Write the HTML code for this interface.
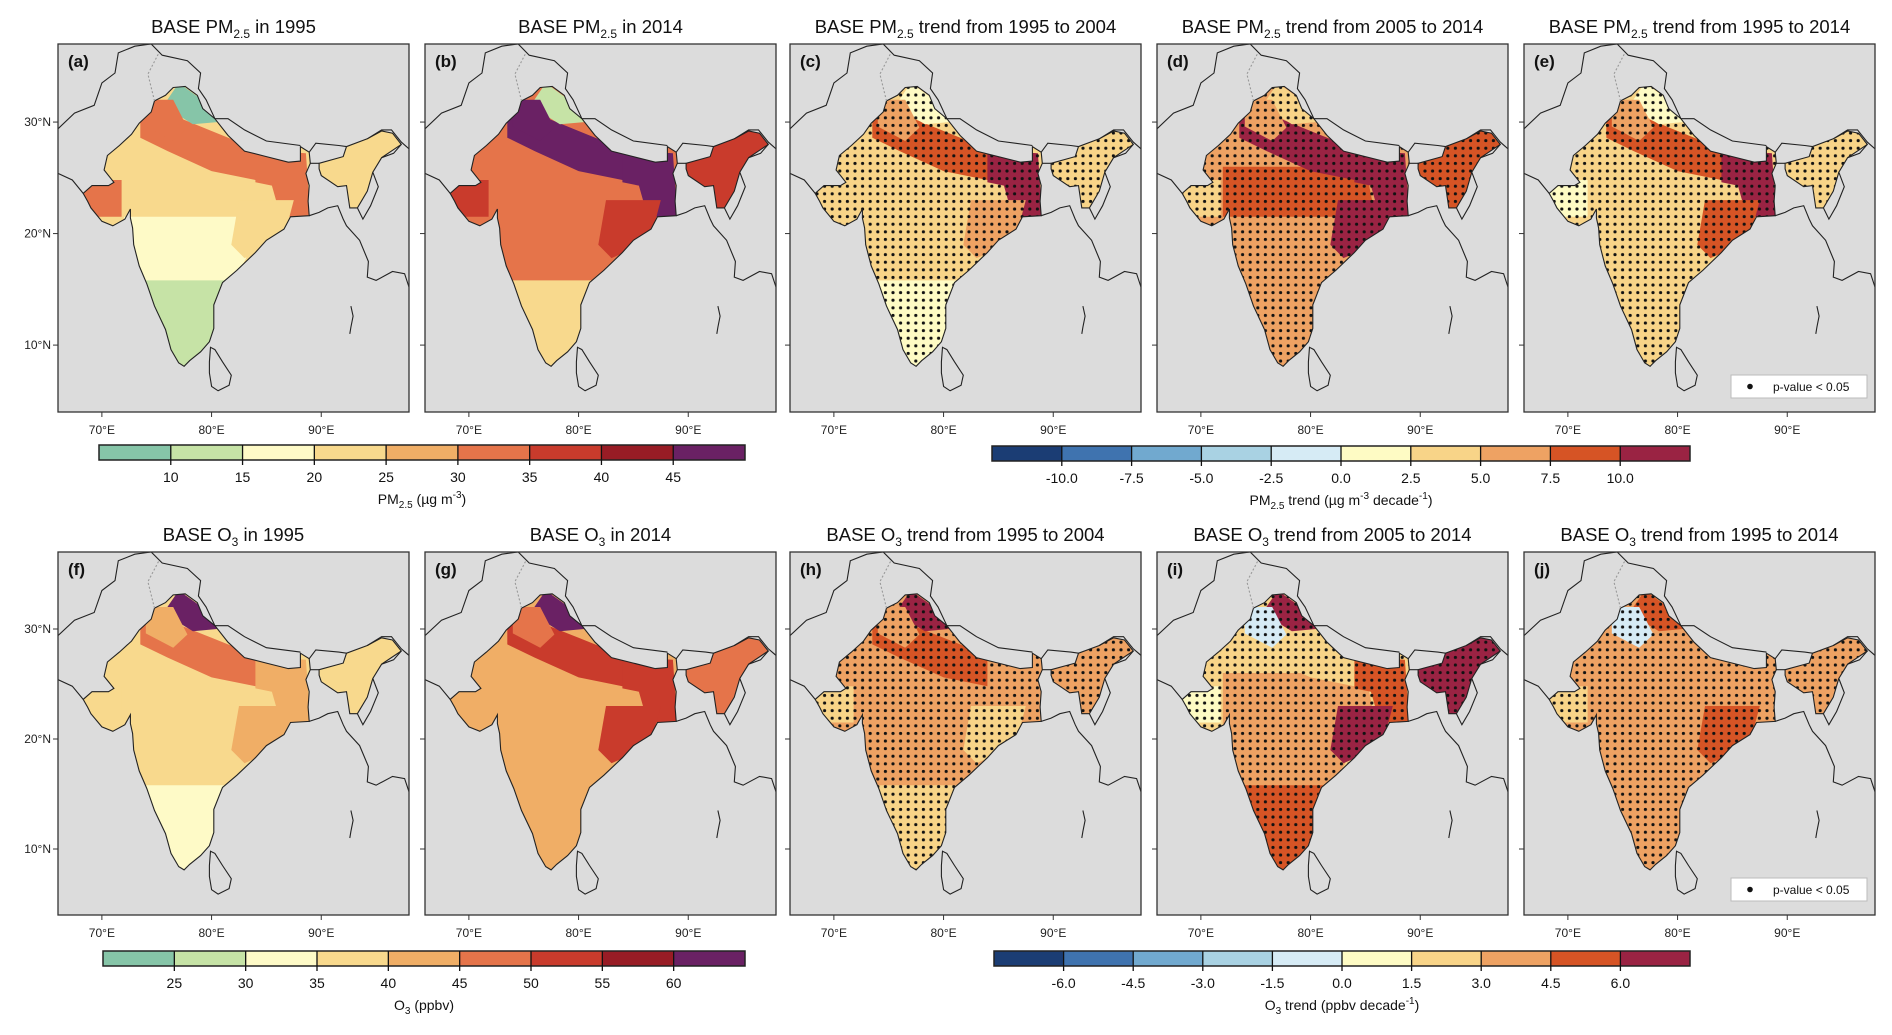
<!DOCTYPE html>
<html><head><meta charset="utf-8">
<style>
html,body{margin:0;padding:0;background:#fff;}
svg{display:block;font-family:"Liberation Sans",Arial,sans-serif;}
</style></head>
<body>
<svg id="fig" width="1892" height="1035" viewBox="0 0 1892 1035" xmlns="http://www.w3.org/2000/svg">
<defs>
<pattern id="dots" x="0" y="0" width="7.6" height="7.6" patternUnits="userSpaceOnUse">
<circle cx="3.8" cy="3.8" r="1.6" fill="#111"/>
</pattern>
</defs>
</svg>
<script>
// ---- data ----
const absTicks = [10,15,20,25,30,35,40,45];
const o3Ticks = [25,30,35,40,45,50,55,60];
const pmTrendTicks = [-10.0,-7.5,-5.0,-2.5,0.0,2.5,5.0,7.5,10.0];
const o3TrendTicks = [-6.0,-4.5,-3.0,-1.5,0.0,1.5,3.0,4.5,6.0];
const absColors = ["#86c5a8","#c6e3a6","#fefac7","#f8d98d","#f0ae66","#e5744a","#c93b2c","#981c25","#6a2164"];
const trendColors = ["#1b3d74","#3f73af","#71a9cf","#a9d2e3","#d6ebf5","#fefbc4","#f8d488","#eea263","#d65425","#9a2343"];
const lonTicks = [70,80,90];
const latTicks = [10,20,30];
// region order: base, central, deccan, south, igp, east, hills, gujarat, odisha, northeast, punjab
const pmA = [22, 23, 17, 12, 32, 31, 8, 33, 24, 23, 30];
const pmB = [33, 32, 31, 22, 47, 47, 14, 37, 39, 37, 46];
const pmC = [3.5, 3.5, 3.0, 1.5, 8.5, 11, 1.5, 4, 6, 4, 6];
const pmD = [6.0, 8.5, 7.0, 6.0, 11, 12, 3, 4, 11, 8, 7];
const pmE = [4.0, 4.8, 4.5, 3.5, 9, 11, 2, 2, 8, 4, 6];
const o3F = [37, 37, 36, 33, 47, 44, 62, 38, 42, 39, 44];
const o3G = [43, 44, 43, 41, 52, 51, 62, 43, 52, 48, 48];
const o3H = [3.5, 3.8, 3.0, 2.5, 4.8, 4.2, 6.5, 2.2, 2.5, 3.5, 3.0];
const o3I = [2.5, 3.5, 3.5, 4.8, 2.6, 4.5, 6.5, 1.2, 6.5, 6.5, -1.2];
const o3J = [3.0, 3.5, 3.8, 3.2, 3.5, 4.2, 5.0, 2.2, 5.0, 3.5, -0.5];

const panels = [
 {id:'a',row:0,col:0,kind:'abs',ticks:absTicks,vals:pmA,t1:'BASE PM',sub:'2.5',t2:' in 1995'},
 {id:'b',row:0,col:1,kind:'abs',ticks:absTicks,vals:pmB,t1:'BASE PM',sub:'2.5',t2:' in 2014'},
 {id:'c',row:0,col:2,kind:'trend',ticks:pmTrendTicks,vals:pmC,t1:'BASE PM',sub:'2.5',t2:' trend from 1995 to 2004'},
 {id:'d',row:0,col:3,kind:'trend',ticks:pmTrendTicks,vals:pmD,t1:'BASE PM',sub:'2.5',t2:' trend from 2005 to 2014'},
 {id:'e',row:0,col:4,kind:'trend',ticks:pmTrendTicks,vals:pmE,t1:'BASE PM',sub:'2.5',t2:' trend from 1995 to 2014',legend:true},
 {id:'f',row:1,col:0,kind:'abs',ticks:o3Ticks,vals:o3F,t1:'BASE O',sub:'3',t2:' in 1995'},
 {id:'g',row:1,col:1,kind:'abs',ticks:o3Ticks,vals:o3G,t1:'BASE O',sub:'3',t2:' in 2014'},
 {id:'h',row:1,col:2,kind:'trend',ticks:o3TrendTicks,vals:o3H,t1:'BASE O',sub:'3',t2:' trend from 1995 to 2004'},
 {id:'i',row:1,col:3,kind:'trend',ticks:o3TrendTicks,vals:o3I,t1:'BASE O',sub:'3',t2:' trend from 2005 to 2014'},
 {id:'j',row:1,col:4,kind:'trend',ticks:o3TrendTicks,vals:o3J,t1:'BASE O',sub:'3',t2:' trend from 1995 to 2014',legend:true}
];

// ---- geometry (lon,lat) ----
const india = [[76.5,33.1],[77.6,33.2],[78.7,32.4],[79.2,31.2],[80.3,30.3],[81.5,28.8],[83,27.4],[85,26.9],[87,26.4],[88.1,26.5],[88.1,27.8],[88.9,27.3],[89.0,26.3],[88.6,25.4],[88.9,24.3],[88.8,22.9],[88.9,21.6],[87.2,21.5],[86.6,20.4],[85,19.4],[84,18.3],[82.3,16.7],[81,15.6],[80.2,13.6],[80.2,11.5],[79.8,10.3],[79,9.4],[78,8.6],[77.5,8.1],[77,8.4],[76.3,9.6],[75.8,11.4],[74.8,13.5],[74.1,15.5],[73.4,17.1],[72.9,19.0],[72.8,20.5],[72.6,21.4],[72.6,22.2],[72.1,21.3],[71,20.7],[70,21.1],[69,22.3],[68.7,22.9],[68.3,23.6],[69.1,24.3],[70.6,24.3],[71.1,24.6],[70.2,25.7],[70.5,27.0],[71.6,27.9],[72.7,28.9],[73.4,29.9],[74.5,30.9],[74.8,31.9],[75.8,32.4]];
const northeast = [[89.8,26.3],[92,26.9],[92.3,27.8],[94.2,28.5],[95.5,29.2],[96.5,29.0],[97.3,28.0],[95.5,26.8],[94.7,25.5],[94.2,23.8],[93.3,22.3],[92.6,22.3],[92.3,24.3],[91.5,24.2],[90,25.2],[89.8,25.8]];
const regions = [
 null,
 [[72,26],[85,26],[86,21],[72,21]],
 [[72,21.5],[85,21.5],[82,15.5],[73,15.5]],
 [[72,15.8],[82,15.8],[80,7],[76,7]],
 [[73.5,30.3],[76,30.8],[80,29.2],[84,27.6],[88.5,27],[88.5,25],[84,24.8],[80,25.6],[76,27.4],[73.5,28.6]],
 [[84,27.5],[88.6,27.2],[89,21.5],[86.3,21.5],[85.5,24.3],[84,24.6]],
 [[75.7,31.6],[77,33.5],[79.4,31.8],[80.5,30],[78.3,29.8],[76.5,30.9]],
 [[67.5,21.5],[71.8,21.5],[71.8,24.8],[67.5,24.8]],
 [[82.5,23],[87.5,23],[86.5,19.3],[83,17.8],[81.8,19]],
 null,
 [[74,32],[76.5,32],[77.8,29.5],[76.5,28.3],[74,29.6]]
];
const lines = [
 [[66,29.4],[67.5,30.8],[69.3,31.5],[70,33.5],[71.2,34.4],[71.5,36.2],[73,36.8],[74.5,37]],
 [[74.5,37],[75.5,36],[77.8,35.5],[79,34.4],[78.8,33],[79.5,32],[80.3,30.3]],
 [[80.3,30.3],[81.5,30.3],[83,29.3],[85,28.3],[88.1,27.9]],
 [[88.9,27.3],[89.5,28.1],[91.6,27.9],[92.3,27.8]],
 [[94.2,28.5],[95.5,29.3],[96.4,29.3],[97.3,28.2],[98,27.6]],
 [[66,25.4],[67.3,24.8],[68.3,23.6]],
 [[88.9,21.6],[89.8,21.9],[90.6,22.3],[91.5,22.5],[92,21.3],[92.3,20.7],[93.5,19.4],[94.3,17.5],[94.2,16.1],[95,15.8],[96.5,16.6],[97.6,16.4],[98,15.2]],
 [[89,26.3],[89.8,26.3]],
 [[97.3,28.0],[96.6,27.2],[95.5,26.8]],
 [[94.7,25.5],[95.2,24.2],[94.5,22.5],[93.8,21.3],[93.3,22.3]]
];
const srilanka = [[79.9,9.8],[80.3,9.6],[81,8.5],[81.8,7.3],[81.6,6.4],[80.6,5.9],[80,6.3],[79.8,7.5],[79.8,8.5]];
const andaman = [[92.7,13.5],[92.9,12.6],[92.7,11.6],[92.6,11.0]];

const NS = 'http://www.w3.org/2000/svg';
const svg = document.getElementById('fig');
function mk(tag, attrs, parent){const e=document.createElementNS(NS,tag);for(const k in attrs)e.setAttribute(k,attrs[k]);(parent||svg).appendChild(e);return e;}

const colLeft = [58,425,790,1157,1524];
const PW = 351;
const rowTop = [44,552];
const PH = [368,363];
const LON0=66, LON1=98, LAT0=4, LAT1=37;

function colorFor(v, ticks, colors){let i=0;while(i<ticks.length && v>=ticks[i]) i++;return colors[i];}

panels.forEach(p=>{
  const x0=colLeft[p.col], y0=rowTop[p.row], h=PH[p.row];
  const sx = lon=> x0+(lon-LON0)/(LON1-LON0)*PW;
  const sy = lat=> y0+(LAT1-lat)/(LAT1-LAT0)*h;
  const path = pts=> 'M'+pts.map(q=>sx(q[0]).toFixed(1)+','+sy(q[1]).toFixed(1)).join('L');
  const g = mk('g',{});
  
  
  const cid='clip'+p.id;
  const cp = mk('clipPath',{id:cid},g);
  mk('path',{d:path(india)+'Z'+path(northeast)+'Z'},cp);
  const fid='frame'+p.id;
  const fc = mk('clipPath',{id:fid},g);
  mk('rect',{x:x0,y:y0,width:PW,height:h},fc);
  const bg = mk('rect',{x:x0,y:y0,width:PW,height:h,fill:'#dcdcdc'},g);
  
  
  const colors = p.kind==='abs'?absColors:trendColors;
  const fillG = mk('g',{'clip-path':'url(#'+cid+')'},g);
  regions.forEach((r,i)=>{
    const c = colorFor(p.vals[i], p.ticks, colors);
    let d;
    if(i===0) d = path(india)+'Z';
    else if(i===9) d = path(northeast)+'Z';
    else d = path(r)+'Z';
    const el = mk('path',{d:d,fill:c},fillG);
    
    
  });
  if(p.kind==='trend'){
    const st = mk('rect',{x:x0,y:y0,width:PW,height:h,fill:'url(#dots)'},fillG);
    
    
  }
  const lg = mk('g',{'clip-path':'url(#'+fid+')',fill:'none',stroke:'#222','stroke-width':'1.1'},g);
  mk('path',{d:path(india)+'Z'},lg);
  mk('path',{d:path(northeast)+'Z'},lg);
  lines.forEach(l=>mk('path',{d:path(l)},lg));
  mk('path',{d:path(srilanka)+'Z'},lg);
  mk('path',{d:path(andaman)},lg);
  mk('path',{d:path([[74.8,31.9],[74.2,34.3],[75.2,36.2]]),stroke:'#999','stroke-dasharray':'2,2'},lg);
  const fr = mk('rect',{x:x0,y:y0,width:PW,height:h,fill:'none',stroke:'#333','stroke-width':'1.3'},g);
  
  
  const pl = mk('text',{x:x0+10,y:y0+23,'font-size':'17','font-weight':'bold',fill:'#111'},g);
  pl.textContent='('+p.id+')';
  
  
  const t = mk('text',{x:x0+PW/2,y:y0-11,'font-size':'18.5','text-anchor':'middle',fill:'#111'},g);
  
  
  const a1=mk('tspan',{},t);a1.textContent=p.t1;
  const a2=mk('tspan',{dy:'5','font-size':'12'},t);a2.textContent=p.sub;
  const a3=mk('tspan',{dy:'-5'},t);a3.textContent=p.t2;
  lonTicks.forEach(lon=>{
    const X=sx(lon);
    mk('line',{x1:X,x2:X,y1:y0+h,y2:y0+h+5,stroke:'#333'},g);
    const tl=mk('text',{x:X,y:y0+h+22,'font-size':'12','text-anchor':'middle',fill:'#222'},g);
    tl.textContent=lon+'°E';
    
    
  });
  latTicks.forEach(lat=>{
    const Y=sy(lat);
    mk('line',{x1:x0-5,x2:x0,y1:Y,y2:Y,stroke:'#333'},g);
    if(p.col===0){
      const tl=mk('text',{x:x0-7,y:Y+4,'font-size':'12','text-anchor':'end',fill:'#222'},g);
      tl.textContent=lat+'°N';
      
      
    }
  });
  if(p.legend){
    const lb=mk('g',{},g);
    
    
    mk('rect',{x:x0+207,y:y0+h-37,width:136,height:23,fill:'#fff',stroke:'#bbb'},lb);
    mk('circle',{cx:x0+226,cy:y0+h-25.5,r:2.8,fill:'#111'},lb);
    const lt=mk('text',{x:x0+249,y:y0+h-21,'font-size':'12',fill:'#111'},lb);
    lt.textContent='p-value < 0.05';
  }
});

function colorbar(x,y,w,hh,ticks,colors,name,labelParts){
  const g=mk('g',{});
  
  
  const n=colors.length, bw=w/n;
  colors.forEach((c,i)=>{
    const r=mk('rect',{x:x+i*bw,y:y,width:bw+0.5,height:hh,fill:c},g);
    
    
  });
  mk('rect',{x:x,y:y,width:w,height:hh,fill:'none',stroke:'#222','stroke-width':'1.5'},g);
  ticks.forEach((t,i)=>{
    const X=x+(i+1)*bw;
    mk('line',{x1:X,x2:X,y1:y,y2:y+hh+5,stroke:'#111','stroke-width':'1.3'},g);
    const tl=mk('text',{x:X,y:y+hh+22,'font-size':'14','text-anchor':'middle',fill:'#111'},g);
    tl.textContent = (ticks===absTicks||ticks===o3Ticks)?String(t):t.toFixed(1);
    
    
  });
  const lab=mk('text',{x:x+w/2,y:y+hh+44,'font-size':'14','text-anchor':'middle',fill:'#111'},g);
  
  
  labelParts.forEach(pp=>{const s=mk('tspan',pp.a||{},lab);s.textContent=pp.t;});
}
colorbar(99,445,646,15,absTicks,absColors,'pm25-colorbar',[{t:'PM'},{t:'2.5',a:{dy:'4','font-size':'10'}},{t:' (µg m',a:{dy:'-4'}},{t:'-3',a:{dy:'-6','font-size':'10'}},{t:')',a:{dy:'6'}}]);
colorbar(992,446,698,15,pmTrendTicks,trendColors,'pm25-trend-colorbar',[{t:'PM'},{t:'2.5',a:{dy:'4','font-size':'10'}},{t:' trend (µg m',a:{dy:'-4'}},{t:'-3',a:{dy:'-6','font-size':'10'}},{t:' decade',a:{dy:'6'}},{t:'-1',a:{dy:'-6','font-size':'10'}},{t:')',a:{dy:'6'}}]);
colorbar(103,951,642,15,o3Ticks,absColors,'o3-colorbar',[{t:'O'},{t:'3',a:{dy:'4','font-size':'10'}},{t:' (ppbv)',a:{dy:'-4'}}]);
colorbar(994,951,696,15,o3TrendTicks,trendColors,'o3-trend-colorbar',[{t:'O'},{t:'3',a:{dy:'4','font-size':'10'}},{t:' trend (ppbv decade',a:{dy:'-4'}},{t:'-1',a:{dy:'-6','font-size':'10'}},{t:')',a:{dy:'6'}}]);
</script>
</body></html>
